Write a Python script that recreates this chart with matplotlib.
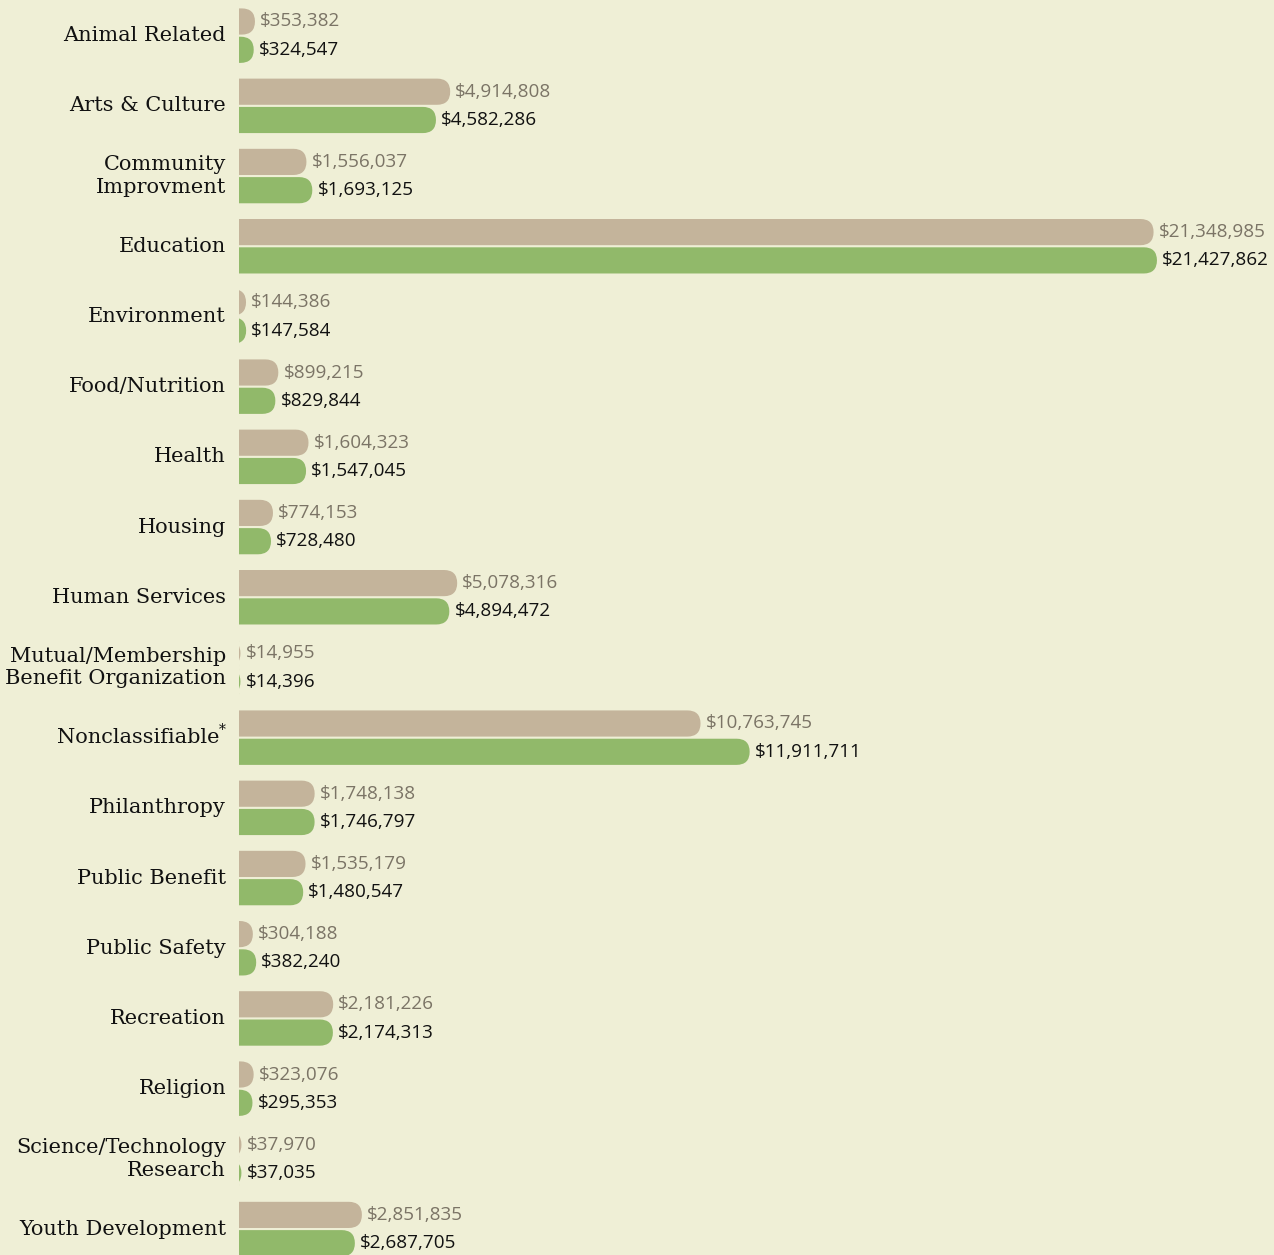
import numpy as np
import matplotlib
matplotlib.use("Agg")
import matplotlib.pyplot as plt
from matplotlib.patches import FancyBboxPatch

categories = ["Animal Related", "Arts & Culture", "Community\nImprovment", "Education",
              "Environment", "Food/Nutrition", "Health", "Housing", "Human Services",
              "Mutual/Membership\nBenefit Organization", "Nonclassifiable", "Philanthropy",
              "Public Benefit", "Public Safety", "Recreation", "Religion",
              "Science/Technology\nResearch", "Youth Development"]
values_prev = [353382, 4914808, 1556037, 21348985, 144386, 899215, 1604323, 774153,
               5078316, 14955, 10763745, 1748138, 1535179, 304188, 2181226, 323076,
               37970, 2851835]
values_curr = [324547, 4582286, 1693125, 21427862, 147584, 829844, 1547045, 728480,
               4894472, 14396, 11911711, 1746797, 1480547, 382240, 2174313, 295353,
               37035, 2687705]

BG = "#efefd6"
BEIGE = "#c4b49b"
GREEN = "#91b96a"
GRAY_TXT = "#7b7466"
DARK_TXT = "#111111"

W, H = 1274, 1255
fig = plt.figure(figsize=(W / 100, H / 100), dpi=100, facecolor=BG)
left_px = 239
ax = fig.add_axes([left_px / W, 0, 1 - left_px / W, 1])
ax.set_facecolor("none")
ax.axis("off")

px_per_dollar = 42.8 / 1e6
ux = 1 / px_per_dollar           # dollars per pixel
xmax = (W - left_px) * ux
ax.set_xlim(0, xmax)
ax.set_ylim(H - 21.5, -21.5)     # y units = pixels

spacing = 70.2
offset = 28.3
bar_h = 24.5
r = bar_h / 2 * ux
aspect = 1 / ux

ypos = np.arange(len(categories)) * spacing

def rbar(v, y, color):
    p = FancyBboxPatch((-r, y - bar_h / 2), v + r, bar_h,
                       boxstyle=f"round,pad=0,rounding_size={r}",
                       mutation_aspect=aspect, fc=color, ec=color, lw=1.2)
    ax.add_patch(p)

lab_font = ["DejaVu Serif"]
val_font = ["Open Sans", "DejaVu Sans"]

for i, cat in enumerate(categories):
    yb = ypos[i]
    yg = ypos[i] + offset
    rbar(values_prev[i], yb, BEIGE)
    rbar(values_curr[i], yg, GREEN)
    ax.annotate(f"${values_prev[i]:,}", xy=(values_prev[i], yb), xytext=(6, 0),
                textcoords="offset pixels", ha="left", va="center",
                fontsize=13.6, color=GRAY_TXT, family=val_font, annotation_clip=False)
    ax.annotate(f"${values_curr[i]:,}", xy=(values_curr[i], yg), xytext=(6, 0),
                textcoords="offset pixels", ha="left", va="center",
                fontsize=13.6, color=DARK_TXT, family=val_font, fontweight="medium",
                annotation_clip=False)
    ymid = (yb + yg) / 2
    shift = -13
    if cat == "Nonclassifiable":
        ax.annotate("*", xy=(0, ymid), xytext=(-13, 8), textcoords="offset pixels",
                    ha="right", va="center", fontsize=10, color=DARK_TXT,
                    family=lab_font, annotation_clip=False)
        shift = -19
    ax.annotate(cat, xy=(0, ymid), xytext=(shift, 0), textcoords="offset pixels",
                ha="right", va="center", fontsize=15, color=DARK_TXT,
                family=lab_font, linespacing=1.22, annotation_clip=False)

fig.savefig("out.png", dpi=100, facecolor=BG)
